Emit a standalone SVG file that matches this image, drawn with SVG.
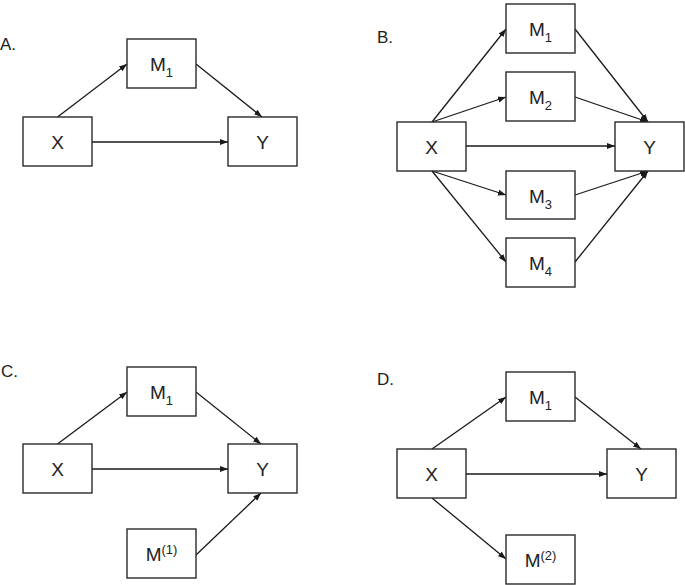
<svg xmlns="http://www.w3.org/2000/svg" width="685" height="585" viewBox="0 0 685 585">
<style>
.box{fill:#fff;stroke:#2a2a2a;stroke-width:1.4}
.lbl{font-family:"Liberation Sans",Arial,sans-serif;font-size:19px;fill:#222;text-anchor:middle}
.sub{font-size:13px}
.pl{font-family:"Liberation Sans",Arial,sans-serif;font-size:17px;fill:#222}
.edge{stroke:#1a1a1a;stroke-width:1.3;fill:none;marker-end:url(#ah)}
</style>
<defs>
<marker id="ah" markerUnits="userSpaceOnUse" markerWidth="9" markerHeight="8" refX="8" refY="4" orient="auto">
<path d="M0,1 L8,4 L0,7 Z" fill="#1a1a1a"/>
</marker>
</defs>
<rect width="685" height="585" fill="#fff"/>
<text class="pl" x="0" y="50">A.</text>
<text class="pl" x="377" y="43">B.</text>
<text class="pl" x="1" y="377">C.</text>
<text class="pl" x="377" y="385">D.</text>
<g id="connectors">
<line class="edge" x1="57.5" y1="117" x2="127" y2="64"/>
<line class="edge" x1="196" y1="64" x2="262" y2="117"/>
<line class="edge" x1="92" y1="142" x2="228" y2="142"/>
<line class="edge" x1="432" y1="122" x2="506" y2="29"/>
<line class="edge" x1="432" y1="122" x2="506" y2="97"/>
<line class="edge" x1="432" y1="171" x2="506" y2="195"/>
<line class="edge" x1="432" y1="171" x2="506" y2="262"/>
<line class="edge" x1="575" y1="29" x2="648" y2="122"/>
<line class="edge" x1="575" y1="97" x2="648" y2="122"/>
<line class="edge" x1="575" y1="195" x2="648" y2="171"/>
<line class="edge" x1="575" y1="262" x2="648" y2="171"/>
<line class="edge" x1="466" y1="146" x2="615" y2="146"/>
<line class="edge" x1="57.5" y1="444" x2="127" y2="392"/>
<line class="edge" x1="196" y1="392" x2="261" y2="444"/>
<line class="edge" x1="92" y1="469" x2="228" y2="469"/>
<line class="edge" x1="196" y1="555" x2="261" y2="493"/>
<line class="edge" x1="432" y1="449" x2="506" y2="397"/>
<line class="edge" x1="575" y1="397" x2="641" y2="449"/>
<line class="edge" x1="466" y1="474" x2="607" y2="474"/>
<line class="edge" x1="432" y1="498" x2="506" y2="559"/>
</g>
<g id="A-X"><rect class="box" x="23" y="117" width="69" height="49"/><text class="lbl" x="57.5" y="148.5">X</text></g>
<g id="A-M1"><rect class="box" x="127" y="39" width="69" height="49"/><text class="lbl" x="161.5" y="71">M<tspan class="sub" dy="6">1</tspan></text></g>
<g id="A-Y"><rect class="box" x="228" y="117" width="69" height="49"/><text class="lbl" x="262.5" y="148.5">Y</text></g>
<g id="B-X"><rect class="box" x="397" y="122" width="69" height="49"/><text class="lbl" x="431.5" y="153.5">X</text></g>
<g id="B-Y"><rect class="box" x="615" y="122" width="69" height="49"/><text class="lbl" x="649.5" y="153.5">Y</text></g>
<g id="B-M1"><rect class="box" x="506" y="4" width="69" height="49"/><text class="lbl" x="540.5" y="36">M<tspan class="sub" dy="6">1</tspan></text></g>
<g id="B-M2"><rect class="box" x="506" y="72" width="69" height="49"/><text class="lbl" x="540.5" y="104">M<tspan class="sub" dy="6">2</tspan></text></g>
<g id="B-M3"><rect class="box" x="506" y="171" width="69" height="48"/><text class="lbl" x="540.5" y="202.5">M<tspan class="sub" dy="6">3</tspan></text></g>
<g id="B-M4"><rect class="box" x="506" y="238" width="69" height="49"/><text class="lbl" x="540.5" y="270">M<tspan class="sub" dy="6">4</tspan></text></g>
<g id="C-X"><rect class="box" x="23" y="444" width="69" height="49"/><text class="lbl" x="57.5" y="475.5">X</text></g>
<g id="C-M1"><rect class="box" x="127" y="367" width="69" height="49"/><text class="lbl" x="161.5" y="399">M<tspan class="sub" dy="6">1</tspan></text></g>
<g id="C-Y"><rect class="box" x="228" y="444" width="69" height="49"/><text class="lbl" x="262.5" y="475.5">Y</text></g>
<g id="C-M1sup"><rect class="box" x="127" y="529" width="69" height="49"/><text class="lbl" x="161.5" y="560.5">M<tspan class="sub" dy="-7">(1)</tspan></text></g>
<g id="D-X"><rect class="box" x="397" y="449" width="69" height="49"/><text class="lbl" x="431.5" y="480.5">X</text></g>
<g id="D-M1"><rect class="box" x="506" y="372" width="69" height="49"/><text class="lbl" x="540.5" y="404">M<tspan class="sub" dy="6">1</tspan></text></g>
<g id="D-Y"><rect class="box" x="607" y="449" width="69" height="49"/><text class="lbl" x="641.5" y="480.5">Y</text></g>
<g id="D-M2sup"><rect class="box" x="506" y="535" width="69" height="49"/><text class="lbl" x="540.5" y="566.5">M<tspan class="sub" dy="-7">(2)</tspan></text></g>
</svg>
